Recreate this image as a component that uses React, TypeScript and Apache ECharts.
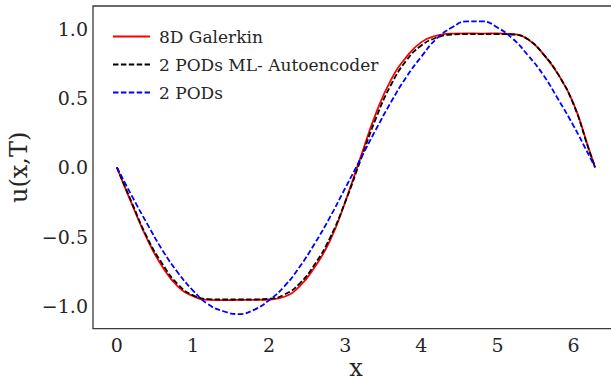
import React, { useEffect, useRef } from "react";
import * as echarts from "echarts";

const xValues = [0, 0.2, 0.4, 0.6, 0.8, 1.0, 1.2, 1.4, 1.6, 1.8, 2.0, 2.2, 2.4, 2.6, 2.8, 3.0, 3.2, 3.4, 3.6, 3.8, 4.0, 4.2, 4.4, 4.6, 4.8, 5.0, 5.2, 5.4, 5.6, 5.8, 6.0, 6.2, 6.283];

const galerkin8D = [0, -0.27, -0.52, -0.72, -0.86, -0.93, -0.958, -0.96, -0.957, -0.958, -0.955, -0.935, -0.86, -0.72, -0.53, -0.25, 0.07, 0.385, 0.63, 0.795, 0.905, 0.952, 0.967, 0.968, 0.967, 0.968, 0.963, 0.925, 0.82, 0.67, 0.46, 0.135, 0];

const podsAutoencoder = [0, -0.26, -0.51, -0.7, -0.845, -0.925, -0.952, -0.955, -0.955, -0.955, -0.95, -0.92, -0.84, -0.7, -0.51, -0.25, 0.05, 0.35, 0.595, 0.77, 0.88, 0.937, 0.96, 0.963, 0.963, 0.963, 0.96, 0.925, 0.82, 0.67, 0.455, 0.13, 0];

const pods2 = [0, -0.21, -0.41, -0.6, -0.76, -0.89, -0.99, -1.04, -1.06, -1.03, -0.96, -0.86, -0.72, -0.55, -0.36, -0.15, 0.06, 0.27, 0.47, 0.65, 0.8, 0.93, 1.01, 1.055, 1.055, 1.01, 0.93, 0.81, 0.67, 0.49, 0.3, 0.09, 0];

const xTicks = [0, 1, 2, 3, 4, 5, 6];
const yTicks = [-1.0, -0.5, 0.0, 0.5, 1.0];

const seriesNames = ["8D Galerkin", "2 PODs ML- Autoencoder", "2 PODs"];

const FONT = "'DejaVu Serif', serif";
const TEXT = "#262626";

const SOLID_ICON = "path://M0,0H37V1.8H0Z";
const DASHED_ICON =
  "path://M0,0H5.5V1.8H0Z M7.9,0H13.4V1.8H7.9Z M15.8,0H21.3V1.8H15.8Z M23.7,0H29.2V1.8H23.7Z M31.6,0H37V1.8H31.6Z";

export default function App() {
  const ref = useRef<HTMLDivElement>(null);
  useEffect(() => {
    if (!ref.current) return;
    const chart = echarts.init(ref.current, null, { renderer: "svg" });
    const pair = (ys: number[]) => xValues.map((x, i) => [x, ys[i]]);
    chart.setOption({
      animation: false,
      backgroundColor: "#ffffff",
      textStyle: { fontFamily: FONT },
      grid: {
        left: 93,
        top: 6,
        width: 526,
        height: 322.7,
        containLabel: false,
        outerBoundsMode: "none",
        show: true,
        borderColor: "#3a3a3a",
        borderWidth: 1.3,
        backgroundColor: "transparent",
      },
      legend: {
        orient: "vertical",
        left: 108,
        top: 23,
        itemWidth: 37,
        itemHeight: 14,
        itemGap: 11,
        textStyle: { fontFamily: FONT, fontSize: 17, color: TEXT, padding: [0, 0, 0, 4] },
        data: [
          { name: seriesNames[0], icon: SOLID_ICON },
          { name: seriesNames[1], icon: DASHED_ICON },
          { name: seriesNames[2], icon: DASHED_ICON },
        ],
      },
      xAxis: {
        type: "value",
        min: -0.314,
        max: 6.597,
        name: "x",
        nameLocation: "middle",
        nameGap: 32,
        nameMoveOverlap: false,
        nameTextStyle: { fontFamily: FONT, fontSize: 24, color: TEXT, lineHeight: 14 },
        axisLine: { show: false },
        axisTick: { show: false },
        splitLine: { show: false },
        axisLabel: {
          customValues: xTicks,
          fontFamily: FONT,
          fontSize: 19,
          color: TEXT,
          margin: 7,
          formatter: (v: number) => String(Math.round(v)),
        },
      },
      yAxis: {
        type: "value",
        min: -1.166,
        max: 1.166,
        name: "u(x,T)",
        nameLocation: "middle",
        nameGap: 61,
        nameRotate: 90,
        nameTextStyle: { fontFamily: FONT, fontSize: 24, color: TEXT },
        axisLine: { show: false },
        axisTick: { show: false },
        splitLine: { show: false },
        axisLabel: {
          customValues: yTicks,
          fontFamily: FONT,
          fontSize: 19,
          color: TEXT,
          margin: 5,
          formatter: (v: number) =>
            (v < 0 ? "\u2212" : "") + Math.abs(v).toFixed(1),
        },
      },
      series: [
        {
          name: seriesNames[0],
          type: "line",
          data: pair(galerkin8D),
          smooth: 0.5,
          symbol: "none",
          lineStyle: { color: "#ff0000", width: 1.8, type: "solid" },
          itemStyle: { color: "#ff0000" },
          z: 2,
        },
        {
          name: seriesNames[1],
          type: "line",
          data: pair(podsAutoencoder),
          smooth: 0.5,
          symbol: "none",
          lineStyle: { color: "#000000", width: 1.8, type: [5.5, 2.4] },
          itemStyle: { color: "#000000" },
          z: 3,
        },
        {
          name: seriesNames[2],
          type: "line",
          data: pair(pods2),
          smooth: 0.5,
          symbol: "none",
          lineStyle: { color: "#0000ff", width: 1.8, type: [5.5, 2.4] },
          itemStyle: { color: "#0000ff" },
          z: 4,
        },
      ],
    });
    return () => chart.dispose();
  }, []);
  return (
    <div
      ref={ref}
      style={{ position: "absolute", left: 0, top: 0, width: 611, height: 379 }}
    />
  );
}
